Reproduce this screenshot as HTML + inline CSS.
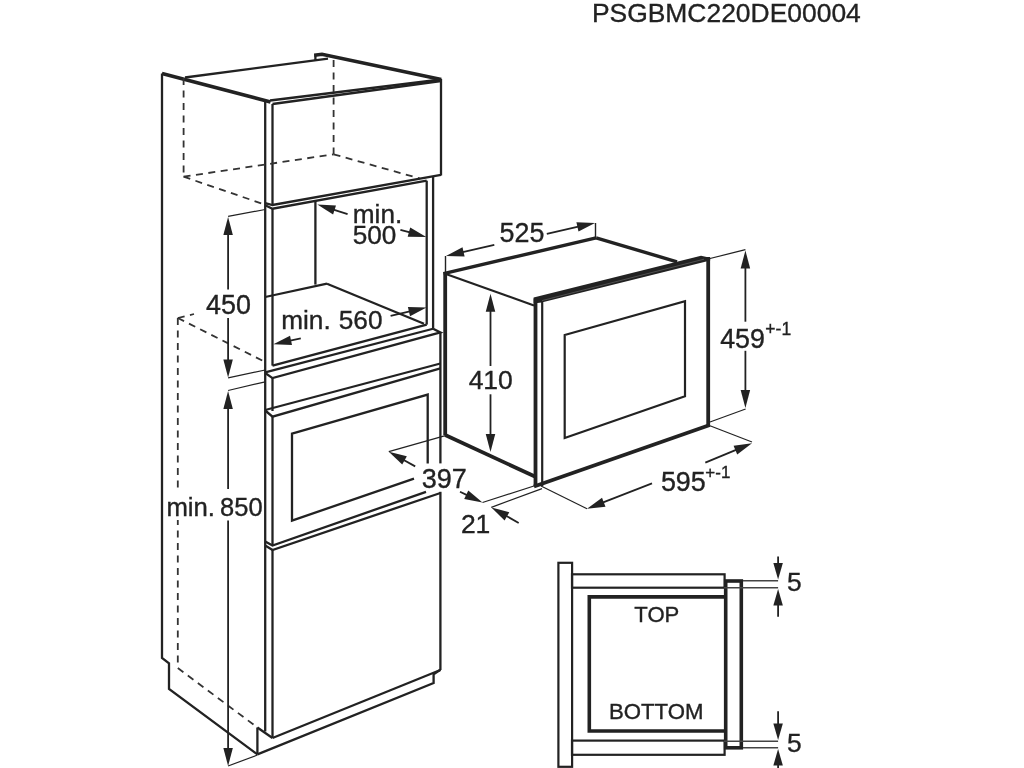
<!DOCTYPE html>
<html><head><meta charset="utf-8"><style>
html,body{margin:0;padding:0;background:#fff;}
body{width:1024px;height:768px;overflow:hidden;}
svg{display:block;font-family:"Liberation Sans",sans-serif;will-change:transform;}
</style></head><body>
<svg width="1024" height="768" viewBox="0 0 1024 768">
<rect width="1024" height="768" fill="#fff"/>
<text x="591.88" y="21.64" font-size="26.45" fill="#222" stroke="#222" stroke-width="0.35">PSGBMC220DE00004</text>
<polyline points="162,73.6 162,658 169,663.4 169,689 257.4,754.4" fill="none" stroke="#222" stroke-width="2.3" stroke-linejoin="miter"/>
<line x1="162" y1="73.6" x2="270.5" y2="102" stroke="#222" stroke-width="3.6"/>
<line x1="185" y1="77.5" x2="328" y2="58.6" stroke="#222" stroke-width="2.3"/>
<line x1="315.4" y1="54" x2="315.4" y2="60.5" stroke="#222" stroke-width="2.3"/>
<polyline points="314.2,55.2 322,54.2 441.3,79.6" fill="none" stroke="#222" stroke-width="3.6" stroke-linejoin="miter"/>
<line x1="441" y1="79" x2="441" y2="175.5" stroke="#222" stroke-width="2.3"/>
<line x1="270" y1="100.5" x2="441" y2="79.5" stroke="#222" stroke-width="2.3"/>
<line x1="272.5" y1="104" x2="441" y2="81" stroke="#222" stroke-width="2.3"/>
<line x1="265.2" y1="101" x2="265.2" y2="731.6" stroke="#222" stroke-width="2.3"/>
<line x1="272.5" y1="104" x2="272.5" y2="205" stroke="#222" stroke-width="2.3"/>
<line x1="272.5" y1="208.7" x2="272.5" y2="365.6" stroke="#222" stroke-width="2.3"/>
<line x1="272.5" y1="378.1" x2="272.5" y2="411" stroke="#222" stroke-width="2.3"/>
<line x1="272.5" y1="416.7" x2="272.5" y2="545.5" stroke="#222" stroke-width="2.3"/>
<line x1="272.5" y1="550" x2="272.5" y2="738" stroke="#222" stroke-width="2.3"/>
<line x1="183.6" y1="78" x2="183.6" y2="176.7" stroke="#333" stroke-width="1.8" stroke-dasharray="7,5.5"/>
<line x1="183.6" y1="176.7" x2="333.6" y2="154.3" stroke="#333" stroke-width="1.8" stroke-dasharray="7,5.5"/>
<line x1="333.6" y1="60" x2="333.6" y2="154.3" stroke="#333" stroke-width="1.8" stroke-dasharray="7,5.5"/>
<line x1="333.6" y1="154.3" x2="420" y2="178.5" stroke="#333" stroke-width="1.8" stroke-dasharray="7,5.5"/>
<line x1="183.6" y1="176.7" x2="262" y2="203.6" stroke="#333" stroke-width="1.8" stroke-dasharray="7,5.5"/>
<polyline points="265.2,203.2 272.5,205 441,174.8" fill="none" stroke="#222" stroke-width="2.3" stroke-linejoin="miter"/>
<polyline points="265.2,205.2 272.5,208.7 426.7,180.7" fill="none" stroke="#222" stroke-width="2.3" stroke-linejoin="miter"/>
<line x1="315.4" y1="201" x2="315.4" y2="284.6" stroke="#222" stroke-width="2.3"/>
<line x1="426.7" y1="180.7" x2="426.7" y2="324.6" stroke="#222" stroke-width="2.3"/>
<line x1="433.1" y1="176.4" x2="433.1" y2="328.75" stroke="#222" stroke-width="2.3"/>
<line x1="265.2" y1="297" x2="327" y2="283.7" stroke="#222" stroke-width="2.3"/>
<line x1="327" y1="283.7" x2="424" y2="323.7" stroke="#222" stroke-width="2.3"/>
<line x1="272.5" y1="365.6" x2="426.7" y2="324.6" stroke="#222" stroke-width="2.3"/>
<line x1="265.2" y1="372.4" x2="433.1" y2="328.75" stroke="#222" stroke-width="2.3"/>
<polyline points="265.2,373 272.5,378.1 440.4,332.4 433.1,328.75" fill="none" stroke="#222" stroke-width="2.3" stroke-linejoin="miter"/>
<line x1="440.4" y1="332.4" x2="440.4" y2="463.4" stroke="#222" stroke-width="2.3"/>
<line x1="440.4" y1="491.8" x2="440.4" y2="670" stroke="#222" stroke-width="2.3"/>
<line x1="265.2" y1="410" x2="440.4" y2="363.5" stroke="#222" stroke-width="2.3"/>
<polyline points="265.2,410.5 272.5,416.7 440.4,368.3" fill="none" stroke="#222" stroke-width="2.3" stroke-linejoin="miter"/>
<polyline points="414,478.6 292,520.6 292,433.7 427.7,394.6 427.7,463.4" fill="none" stroke="#222" stroke-width="2.3" stroke-linejoin="miter"/>
<polyline points="265.2,541.4 272.5,545.5 426,491.8" fill="none" stroke="#222" stroke-width="2.3" stroke-linejoin="miter"/>
<polyline points="265.2,545.5 272.5,550 440.4,493" fill="none" stroke="#222" stroke-width="2.3" stroke-linejoin="miter"/>
<line x1="177.8" y1="318" x2="177.8" y2="668" stroke="#333" stroke-width="1.8" stroke-dasharray="7,5.5"/>
<line x1="177.8" y1="318" x2="194" y2="314" stroke="#333" stroke-width="1.8" stroke-dasharray="7,5.5"/>
<line x1="177.8" y1="318" x2="265.2" y2="362" stroke="#333" stroke-width="1.8" stroke-dasharray="7,5.5"/>
<line x1="177.8" y1="668" x2="257.4" y2="727.5" stroke="#333" stroke-width="1.8" stroke-dasharray="7,5.5"/>
<line x1="257.4" y1="727.5" x2="257.4" y2="754.4" stroke="#222" stroke-width="2.3"/>
<line x1="257.4" y1="727.5" x2="272.5" y2="738" stroke="#222" stroke-width="2.3"/>
<line x1="272.5" y1="738" x2="440.4" y2="670" stroke="#222" stroke-width="2.3"/>
<polyline points="257.4,754.4 433.6,683 433.6,674.2 440.4,669.8" fill="none" stroke="#222" stroke-width="2.3" stroke-linejoin="miter"/>
<line x1="228.1" y1="216.4" x2="265.2" y2="209.5" stroke="#222" stroke-width="1.2"/>
<line x1="228.1" y1="289.6" x2="228.1" y2="233.0" stroke="#222" stroke-width="1.8"/>
<polygon points="228.10,217.00 232.85,235.00 223.35,235.00" fill="#222"/>
<line x1="228.1" y1="318" x2="228.1" y2="361.5" stroke="#222" stroke-width="1.8"/>
<polygon points="228.10,377.50 223.35,359.50 232.85,359.50" fill="#222"/>
<text x="206.03" y="313.83" font-size="26.88" fill="#222" stroke="#222" stroke-width="0.35">450</text>
<line x1="228.1" y1="377.9" x2="265.2" y2="370" stroke="#222" stroke-width="1.2"/>
<line x1="228.1" y1="390.5" x2="265.2" y2="381.8" stroke="#222" stroke-width="1.2"/>
<line x1="228.1" y1="490.5" x2="228.1" y2="407.0" stroke="#222" stroke-width="1.8"/>
<polygon points="228.10,391.00 232.85,409.00 223.35,409.00" fill="#222"/>
<line x1="228.1" y1="520.4" x2="228.1" y2="750.0" stroke="#222" stroke-width="1.8"/>
<polygon points="228.10,766.00 223.35,748.00 232.85,748.00" fill="#222"/>
<rect x="164.5" y="489" width="99" height="31" fill="#fff"/>
<text x="166.43" y="516.10" font-size="25.72" fill="#222" stroke="#222" stroke-width="0.35">min.</text>
<text x="220.05" y="515.84" font-size="25.53" fill="#222" stroke="#222" stroke-width="0.35">850</text>
<line x1="228.1" y1="766" x2="257.4" y2="755" stroke="#222" stroke-width="1.2"/>
<text x="352.80" y="222.70" font-size="26.20" fill="#222" stroke="#222" stroke-width="0.35">min.</text>
<text x="352.75" y="244.44" font-size="26.18" fill="#222" stroke="#222" stroke-width="0.35">500</text>
<line x1="347.6" y1="214.2" x2="332.63350629216615" y2="209.3928811600666" stroke="#222" stroke-width="1.8"/>
<polygon points="317.40,204.50 335.99,205.48 333.09,214.53" fill="#222"/>
<line x1="400.4" y1="229.8" x2="410.8692915412299" y2="232.66996022944915" stroke="#222" stroke-width="1.8"/>
<polygon points="426.30,236.90 407.68,236.72 410.20,227.56" fill="#222"/>
<text x="281.20" y="328.80" font-size="26.23" fill="#222" stroke="#222" stroke-width="0.35">min.</text>
<text x="338.75" y="329.14" font-size="26.22" fill="#222" stroke="#222" stroke-width="0.35">560</text>
<line x1="300.8" y1="338.4" x2="289.05315021577815" y2="340.88655944337546" stroke="#222" stroke-width="1.8"/>
<polygon points="273.40,344.20 290.03,335.83 291.99,345.12" fill="#222"/>
<line x1="390.6" y1="315.9" x2="410.9112058498215" y2="311.20409446926135" stroke="#222" stroke-width="1.8"/>
<polygon points="426.50,307.60 410.03,316.28 407.89,307.03" fill="#222"/>
<line x1="388.8" y1="451.7" x2="445.3" y2="435.7" stroke="#222" stroke-width="1.2"/>
<line x1="415.2" y1="466.4" x2="402.7790168740476" y2="459.48377075941283" stroke="#222" stroke-width="1.8"/>
<polygon points="388.80,451.70 406.84,456.31 402.22,464.61" fill="#222"/>
<text x="421.82" y="487.53" font-size="27.02" fill="#222" stroke="#222" stroke-width="0.35">397</text>
<line x1="460" y1="491.8" x2="468.0506724940713" y2="495.6285420305139" stroke="#222" stroke-width="1.8"/>
<polygon points="482.50,502.50 464.20,499.06 468.28,490.48" fill="#222"/>
<text x="460.88" y="532.60" font-size="26.50" fill="#222" stroke="#222" stroke-width="0.35">21</text>
<line x1="482.5" y1="502.5" x2="537" y2="485" stroke="#222" stroke-width="1.2"/>
<line x1="491.3" y1="507.4" x2="542" y2="488.6" stroke="#222" stroke-width="1.2"/>
<line x1="518.7" y1="523" x2="505.2043643626082" y2="515.3163534327258" stroke="#222" stroke-width="1.8"/>
<polygon points="491.30,507.40 509.29,512.18 504.59,520.43" fill="#222"/>
<line x1="445.2" y1="272" x2="445.2" y2="435" stroke="#222" stroke-width="3.8"/>
<line x1="445.2" y1="435" x2="536" y2="477" stroke="#222" stroke-width="3.8"/>
<line x1="445.2" y1="273.7" x2="534" y2="305.5" stroke="#222" stroke-width="2.2"/>
<line x1="443.5" y1="273.7" x2="596.1" y2="237.9" stroke="#222" stroke-width="3.4"/>
<line x1="596.1" y1="237.9" x2="677" y2="261.8" stroke="#222" stroke-width="3.4"/>
<polygon points="533.60,297.60 701.00,255.80 710.20,257.80 710.20,260.40 541.50,302.40 533.60,303.60" fill="#222"/>
<line x1="542" y1="300.6" x2="704" y2="259.2" stroke="#555" stroke-width="0.9"/>
<line x1="535.5" y1="298.5" x2="535.5" y2="486" stroke="#222" stroke-width="3.8"/>
<line x1="542.2" y1="302" x2="542.2" y2="486" stroke="#222" stroke-width="2.2"/>
<line x1="708.2" y1="257" x2="708.2" y2="425" stroke="#222" stroke-width="3.8"/>
<line x1="534" y1="486.5" x2="709.8" y2="425" stroke="#222" stroke-width="3.8"/>
<polygon points="564.7,335 685,301.3 685,396.3 564.7,438" fill="none" stroke="#222" stroke-width="2.2" stroke-linejoin="miter"/>
<line x1="445.5" y1="256" x2="445.5" y2="273" stroke="#222" stroke-width="1.4"/>
<line x1="494.3" y1="244.9" x2="461.60053772407076" y2="252.3470825059052" stroke="#222" stroke-width="1.8"/>
<polygon points="446.00,255.90 462.50,247.27 464.61,256.53" fill="#222"/>
<text x="499.53" y="242.13" font-size="26.86" fill="#222" stroke="#222" stroke-width="0.35">525</text>
<line x1="546.8" y1="233.9" x2="579.4010596490866" y2="226.45992414647398" stroke="#222" stroke-width="1.8"/>
<polygon points="595.00,222.90 578.51,231.54 576.39,222.27" fill="#222"/>
<line x1="595.5" y1="223" x2="595.5" y2="238" stroke="#222" stroke-width="1.4"/>
<line x1="490.5" y1="366" x2="490.5" y2="309.7" stroke="#222" stroke-width="1.8"/>
<polygon points="490.50,293.70 495.25,311.70 485.75,311.70" fill="#222"/>
<line x1="490.5" y1="394.3" x2="490.5" y2="436.0" stroke="#222" stroke-width="1.8"/>
<polygon points="490.50,452.00 485.75,434.00 495.25,434.00" fill="#222"/>
<text x="468.64" y="389.24" font-size="26.50" fill="#222" stroke="#222" stroke-width="0.35">410</text>
<line x1="708" y1="259" x2="745.4" y2="249.7" stroke="#222" stroke-width="1.2"/>
<line x1="745.4" y1="321.7" x2="745.4" y2="266.5" stroke="#222" stroke-width="1.8"/>
<polygon points="745.40,250.50 750.15,268.50 740.65,268.50" fill="#222"/>
<line x1="745.4" y1="350.8" x2="745.4" y2="392.0" stroke="#222" stroke-width="1.8"/>
<polygon points="745.40,408.00 740.65,390.00 750.15,390.00" fill="#222"/>
<line x1="710" y1="422" x2="745.6" y2="409" stroke="#222" stroke-width="1.2"/>
<text x="720.23" y="347.53" font-size="26.81" fill="#222" stroke="#222" stroke-width="0.35">459</text>
<text x="765.32" y="334.50" font-size="17.54" fill="#222" stroke="#222" stroke-width="0.35">+-1</text>
<line x1="708" y1="425" x2="752" y2="442" stroke="#222" stroke-width="1.2"/>
<line x1="705.3" y1="462.7" x2="737.2354503803641" y2="449.3650688989914" stroke="#222" stroke-width="1.8"/>
<polygon points="752.00,443.20 737.22,454.52 733.56,445.75" fill="#222"/>
<line x1="652" y1="483.3" x2="601.8948074667763" y2="502.9566524553416" stroke="#222" stroke-width="1.8"/>
<polygon points="587.00,508.80 602.02,497.80 605.49,506.65" fill="#222"/>
<line x1="541" y1="486" x2="587" y2="508.8" stroke="#222" stroke-width="1.2"/>
<text x="660.92" y="490.98" font-size="26.92" fill="#222" stroke="#222" stroke-width="0.35">595</text>
<text x="705.35" y="477.60" font-size="16.96" fill="#222" stroke="#222" stroke-width="0.35">+-1</text>
<rect x="558.4" y="562.8" width="13.7" height="204" fill="none" stroke="#222" stroke-width="2.2"/>
<rect x="572" y="574.3" width="152.6" height="13.4" fill="none" stroke="#222" stroke-width="2.2"/>
<rect x="572" y="740.6" width="152.6" height="14.2" fill="none" stroke="#222" stroke-width="2.2"/>
<polyline points="725.8,596.9 589.3,596.9 589.3,731 725.8,731" fill="none" stroke="#222" stroke-width="3.6" stroke-linejoin="miter"/>
<rect x="725.7" y="581" width="15.6" height="166.8" fill="none" stroke="#222" stroke-width="3.6"/>
<line x1="743" y1="580.8" x2="778.1" y2="580.8" stroke="#444" stroke-width="1.5"/>
<line x1="724" y1="587.8" x2="778.1" y2="587.8" stroke="#444" stroke-width="1.5"/>
<line x1="778.1" y1="556.4" x2="778.1" y2="565.0" stroke="#222" stroke-width="1.8"/>
<polygon points="778.10,579.50 773.35,563.00 782.85,563.00" fill="#222"/>
<line x1="778.1" y1="616.8" x2="778.1" y2="603.5" stroke="#222" stroke-width="1.8"/>
<polygon points="778.10,589.00 782.85,605.50 773.35,605.50" fill="#222"/>
<line x1="724" y1="741.3" x2="778.1" y2="741.3" stroke="#444" stroke-width="1.5"/>
<line x1="743" y1="747.8" x2="778.1" y2="747.8" stroke="#444" stroke-width="1.5"/>
<line x1="778.1" y1="711.2" x2="778.1" y2="725.5" stroke="#222" stroke-width="1.8"/>
<polygon points="778.10,740.00 773.35,723.50 782.85,723.50" fill="#222"/>
<line x1="778.1" y1="790" x2="778.1" y2="763.5" stroke="#222" stroke-width="1.8"/>
<polygon points="778.10,749.00 782.85,765.50 773.35,765.50" fill="#222"/>
<text x="786.94" y="591.24" font-size="26.41" fill="#222" stroke="#222" stroke-width="0.35">5</text>
<text x="786.94" y="751.94" font-size="26.41" fill="#222" stroke="#222" stroke-width="0.35">5</text>
<text x="634.35" y="621.98" font-size="22.08" fill="#222" stroke="#222" stroke-width="0.35">TOP</text>
<text x="608.92" y="718.98" font-size="22.21" fill="#222" stroke="#222" stroke-width="0.35">BOTTOM</text>
</svg></body></html>
